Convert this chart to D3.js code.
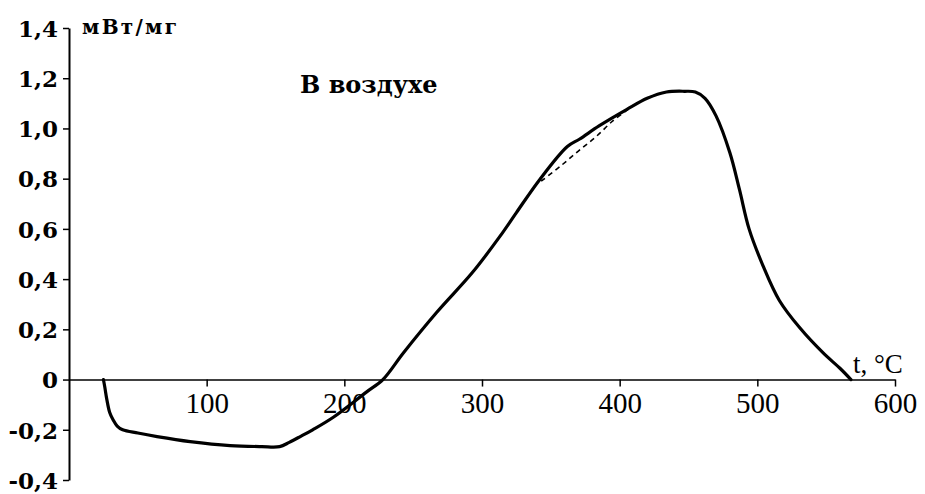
<!DOCTYPE html>
<html>
<head>
<meta charset="utf-8">
<script src="https://cdn.jsdelivr.net/npm/d3@7"></script>
<style>
  html, body { margin: 0; padding: 0; background: #ffffff; }
  svg { display: block; }
</style>
</head>
<body>
<svg id="chart" width="925" height="494"></svg>
<script>
// DSC trace measured in air: heat flow (mW/mg) versus temperature (°C)
const tempC = [25, 26, 27.5, 29.5, 32, 35, 39, 50, 64, 88, 117, 140, 153, 160, 168, 177, 192, 216, 228, 243, 267, 293, 313, 325, 342, 362, 371, 385, 405, 420, 434, 447, 455, 462, 470, 480, 487, 494, 504, 516, 531, 548, 560, 568];
const heatFlow = [0, -0.03, -0.08, -0.13, -0.16, -0.185, -0.2, -0.213, -0.227, -0.247, -0.263, -0.267, -0.267, -0.25, -0.227, -0.2, -0.15, -0.05, 0, 0.107, 0.267, 0.426, 0.57, 0.665, 0.797, 0.928, 0.958, 1.01, 1.075, 1.12, 1.145, 1.148, 1.145, 1.12, 1.05, 0.904, 0.757, 0.6, 0.455, 0.315, 0.205, 0.105, 0.045, 0];

// Dashed baseline under the shoulder of the exotherm
const baseTempC = [343, 357, 370, 383, 395, 406];
const baseHeat = [0.79, 0.85, 0.91, 0.968, 1.03, 1.075];

// Axis ticks
const xTickValues = [100, 200, 300, 400, 500, 600];
const yTickValues = [1.4, 1.2, 1.0, 0.8, 0.6, 0.4, 0.2, 0, -0.2, -0.4];
const yTickLabels = ["1,4", "1,2", "1,0", "0,8", "0,6", "0,4", "0,2", "0", "-0,2", "-0,4"];

const svg = d3.select("#chart");

const x = d3.scaleLinear().domain([0, 600]).range([69, 895]);
const y = d3.scaleLinear().domain([-0.4, 1.4]).range([480, 28]);

// Y axis
const yAxis = d3.axisLeft(y)
  .tickValues(yTickValues)
  .tickFormat((d, i) => yTickLabels[i])
  .tickSize(6)
  .tickSizeOuter(0)
  .tickPadding(5);

const gy = svg.append("g")
  .attr("transform", `translate(${x(0)},0)`)
  .call(yAxis);
gy.select(".domain").attr("stroke", "#000").attr("stroke-width", 2);
gy.selectAll(".tick line").attr("stroke", "#000").attr("stroke-width", 1.5);
gy.selectAll(".tick text")
  .attr("fill", "#000")
  .attr("font-family", "'DejaVu Serif', serif")
  .attr("font-weight", "bold")
  .attr("font-size", 23)
  .attr("dy", "0.36em");

// X axis drawn along zero heat flow
const xAxis = d3.axisBottom(x)
  .tickValues(xTickValues)
  .tickSize(7)
  .tickSizeOuter(0);

const gx = svg.append("g")
  .attr("transform", `translate(0,${y(0)})`)
  .call(xAxis);
gx.select(".domain").attr("stroke", "#000").attr("stroke-width", 1.6);
gx.selectAll(".tick line").attr("stroke", "#000").attr("stroke-width", 1.5);
gx.selectAll(".tick text")
  .attr("fill", "#000")
  .attr("font-family", "'Liberation Serif', 'Times New Roman', serif")
  .attr("font-size", 29)
  .attr("y", 33)
  .attr("dy", 0);

// Axis titles and annotation
svg.append("text")
  .attr("x", 82).attr("y", 34)
  .attr("font-family", "'DejaVu Serif', serif")
  .attr("font-weight", "bold")
  .attr("font-size", 20)
  .attr("textLength", 95)
  .attr("lengthAdjust", "spacing")
  .text("мВт/мг");

svg.append("text")
  .attr("x", 853).attr("y", 373)
  .attr("font-family", "'Liberation Serif', 'Times New Roman', serif")
  .attr("font-size", 27)
  .text("t, °C");

svg.append("text")
  .attr("x", 300).attr("y", 93)
  .attr("font-family", "'DejaVu Serif', serif")
  .attr("font-weight", "bold")
  .attr("font-size", 24)
  .text("В воздухе");

// Curves
const line = d3.line()
  .x(d => x(d[0]))
  .y(d => y(d[1]))
  .curve(d3.curveCatmullRom.alpha(0.5));

svg.append("path")
  .datum(baseTempC.map((t, i) => [t, baseHeat[i]]))
  .attr("d", line)
  .attr("fill", "none")
  .attr("stroke", "#000")
  .attr("stroke-width", 1.6)
  .attr("stroke-dasharray", "5,4");

svg.append("path")
  .datum(tempC.map((t, i) => [t, heatFlow[i]]))
  .attr("d", line)
  .attr("fill", "none")
  .attr("stroke", "#000")
  .attr("stroke-width", 3.2)
  .attr("stroke-linejoin", "round")
  .attr("stroke-linecap", "round");
</script>
</body>
</html>
